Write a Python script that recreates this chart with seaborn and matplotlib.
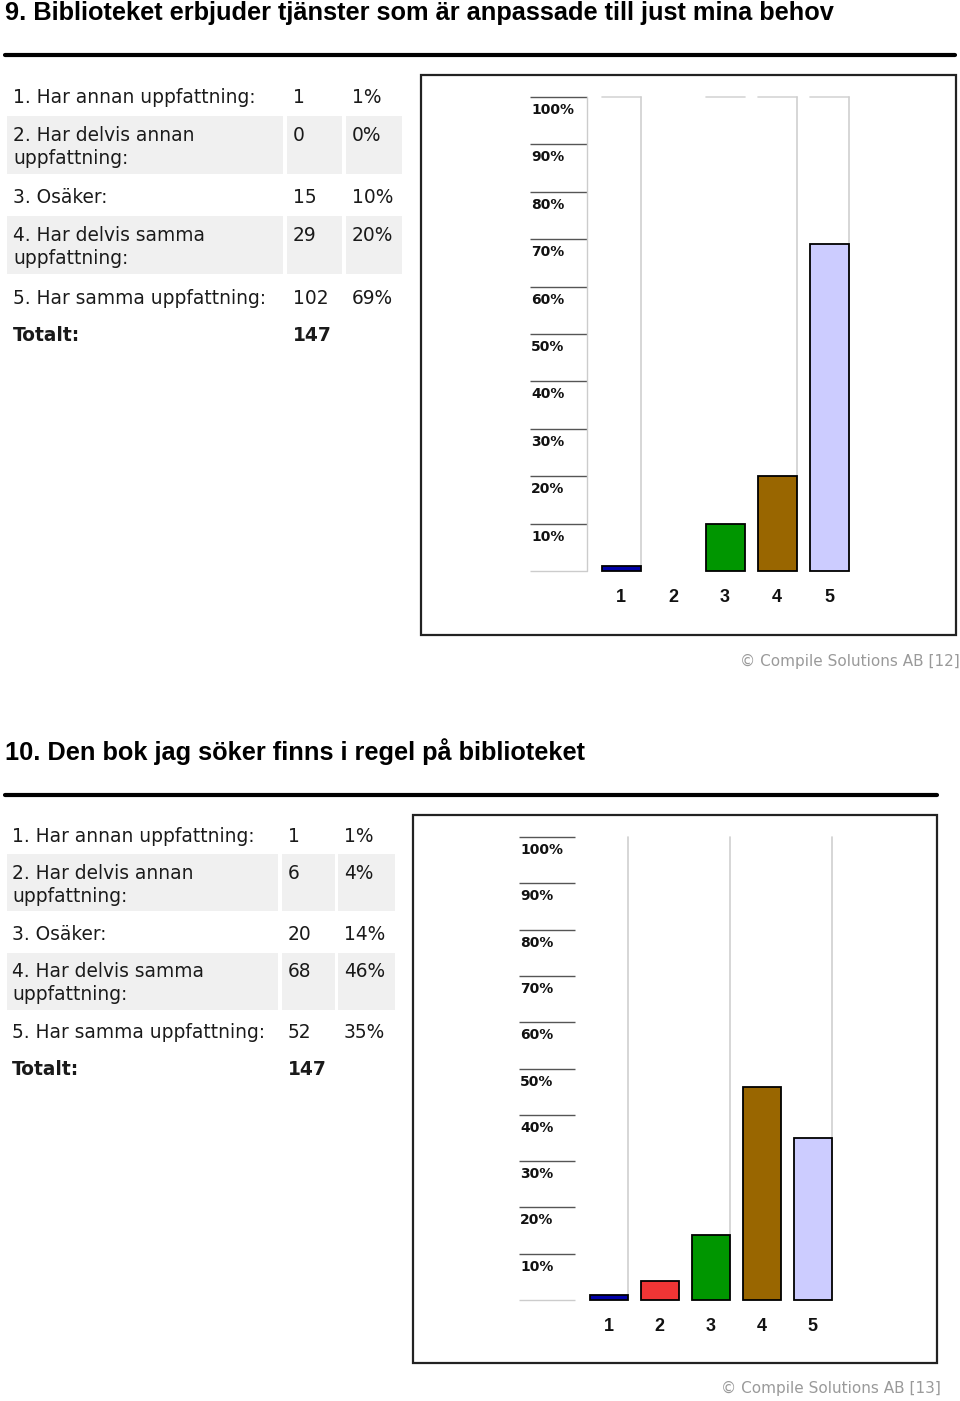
import matplotlib
matplotlib.use("Agg")
import matplotlib.pyplot as plt
import seaborn as sns
import pandas as pd
from matplotlib.patches import Rectangle
from matplotlib.lines import Line2D

# ---------------- data ----------------
q9_title = "9. Biblioteket erbjuder tjänster som är anpassade till just mina behov"
q10_title = "10. Den bok jag söker finns i regel på biblioteket"
answer_labels = [
    "1. Har annan uppfattning:",
    "2. Har delvis annan\nuppfattning:",
    "3. Osäker:",
    "4. Har delvis samma\nuppfattning:",
    "5. Har samma uppfattning:",
]
categories = ["1", "2", "3", "4", "5"]
q9_counts = [1, 0, 15, 29, 102]
q9_pcts = [1, 0, 10, 20, 69]
q9_total = 147
q10_counts = [1, 6, 20, 68, 52]
q10_pcts = [1, 4, 14, 46, 35]
q10_total = 147
total_label = "Totalt:"
y_ticks = [10, 20, 30, 40, 50, 60, 70, 80, 90, 100]
y_tick_labels = ["10%", "20%", "30%", "40%", "50%", "60%", "70%", "80%", "90%", "100%"]
bar_colors = ["#0000a8", "#f03535", "#009600", "#996600", "#ccccff"]
footer_q9 = "© Compile Solutions AB [12]"
footer_q10 = "© Compile Solutions AB [13]"

# ---------------- layout (pixels) ----------------
W, H = 960, 1401
sns.set_style("white")
plt.rcParams["font.family"] = ["DejaVu Sans"]

fig = plt.figure(figsize=(W / 100, H / 100), dpi=100)
fig.patch.set_facecolor("white")


def fx(x):
    return x / W


def fy(y):
    return 1 - y / H


P1 = dict(title_base=20, rule_y=55, rule_x1=955,
          row_base=[103, 141, 203, 241, 304], total_base=341, line_gap=23,
          col_x=(13, 293, 352), bg_cols=[(7, 283), (287, 342), (346, 402)],
          bg_rows=[(116, 174), (216, 274)], box=(421, 75, 956, 635),
          scale=(530, 587), lbl_dx=1, y0=571, y100=97, bar_c0=621, step=52, bar_w=39,
          trough_top=[True, False, True, True, True],
          trough_right=[True, False, False, True, True], scale_vline=True,
          footer=(960, 661))
P2 = dict(title_base=760, rule_y=795, rule_x1=937,
          row_base=[842, 879, 940, 977, 1038], total_base=1075, line_gap=23,
          col_x=(12, 288, 344), bg_cols=[(7, 278), (282, 335), (338, 395)],
          bg_rows=[(854, 911), (953, 1010)], box=(413, 815, 937, 1363),
          scale=(519, 575), lbl_dx=1, y0=1300, y100=837, bar_c0=608.5, step=51, bar_w=38,
          trough_top=[False] * 5,
          trough_right=[True, False, True, False, True], scale_vline=False,
          footer=(941, 1388))

TXT = "#1a1a1a"
TFS = 13.4


def draw_panel(p, title, counts, pcts, total, footer):
    # title + rule
    fig.text(fx(5), fy(p["title_base"]), title, family="Liberation Sans",
             fontweight="bold", fontsize=18.3, va="baseline", ha="left", color="black")
    fig.add_artist(Line2D([fx(5), fx(p["rule_x1"])], [fy(p["rule_y"])] * 2,
                          transform=fig.transFigure, color="black", lw=3))
    # table backgrounds
    for (y0, y1) in p["bg_rows"]:
        for (x0, x1) in p["bg_cols"]:
            fig.add_artist(Rectangle((fx(x0), fy(y1)), fx(x1) - fx(x0), fy(y0) - fy(y1),
                                     transform=fig.transFigure, facecolor="#f0f0f0",
                                     edgecolor="none", zorder=0))
    # table text
    cx = p["col_x"]
    for lab, c, pc, yb in zip(answer_labels, counts, pcts, p["row_base"]):
        for k, part in enumerate(lab.split("\n")):
            fig.text(fx(cx[0]), fy(yb + k * p["line_gap"]), part, fontsize=TFS,
                     va="baseline", ha="left", color=TXT)
        fig.text(fx(cx[1]), fy(yb), str(c), fontsize=TFS, va="baseline", color=TXT)
        fig.text(fx(cx[2]), fy(yb), f"{pc}%", fontsize=TFS, va="baseline", color=TXT)
    fig.text(fx(cx[0]), fy(p["total_base"]), total_label, fontsize=TFS,
             fontweight="bold", va="baseline", color=TXT)
    fig.text(fx(cx[1]), fy(p["total_base"]), str(total), fontsize=TFS,
             fontweight="bold", va="baseline", color=TXT)

    # chart box
    bx0, by0, bx1, by1 = p["box"]
    fig.add_artist(Rectangle((fx(bx0), fy(by1)), fx(bx1) - fx(bx0), fy(by0) - fy(by1),
                             transform=fig.transFigure, fill=False,
                             edgecolor="#222222", lw=1.6))

    # bar chart axes
    ax_left = p["scale"][0]
    ax_right = bx1 - 20
    ax = fig.add_axes([fx(ax_left), fy(p["y0"]), fx(ax_right) - fx(ax_left),
                       fy(p["y100"]) - fy(p["y0"])])
    ax.patch.set_alpha(0)
    step = p["step"]
    w = p["bar_w"] / step
    df = pd.DataFrame({"cat": categories, "pct": pcts})
    sns.barplot(data=df, x="cat", y="pct", hue="cat", palette=bar_colors,
                saturation=1, width=w, edgecolor="black", linewidth=1.3,
                legend=False, ax=ax, zorder=3)
    for patch in ax.patches:
        patch.set_clip_on(False)
        if patch.get_height() == 0:
            patch.set_visible(False)
    ax.set_ylim(0, 100)
    ax.set_xlim(-(p["bar_c0"] - ax_left) / step, (ax_right - p["bar_c0"]) / step)

    # troughs
    for i in range(len(categories)):
        xl, xr = i - w / 2, i + w / 2
        if p["trough_top"][i]:
            ax.plot([xl, xr], [100, 100], color="#d6d6d6", lw=1.2, zorder=1,
                    clip_on=False)
        if p["trough_right"][i]:
            ax.plot([xr, xr], [pcts[i], 100], color="#cfcfcf", lw=1.2, zorder=1,
                    clip_on=False)

    # scale column
    trans = ax.get_yaxis_transform()
    xmax = (p["scale"][1] - ax_left) / (ax_right - ax_left)
    ax.hlines(y_ticks, 0, xmax, transform=trans, color="#555555", lw=1.0,
              clip_on=False)
    ax.hlines([0], 0, xmax, transform=trans, color="#cccccc", lw=1.0, clip_on=False)
    if p["scale_vline"]:
        ax.plot([xmax, xmax], [0, 100], transform=trans, color="#cccccc", lw=1.0,
                clip_on=False)
    for t, lab in zip(y_ticks, y_tick_labels):
        ax.annotate(lab, xy=(0, t), xycoords=trans,
                    xytext=(p["lbl_dx"] * 0.72, -17 * 0.72), textcoords="offset points",
                    fontsize=10, fontweight="bold", va="baseline", ha="left",
                    color="#111111")

    ax.set_xticks(range(len(categories)))
    ax.set_xticklabels(categories, family="Liberation Sans", fontweight="bold",
                       fontsize=13, color="#111111")
    ax.tick_params(axis="x", length=0, pad=13)
    ax.set_yticks([])
    ax.set_xlabel("")
    ax.set_ylabel("")
    for s in ax.spines.values():
        s.set_visible(False)

    # footer
    fig.text(fx(p["footer"][0]), fy(p["footer"][1]), footer, ha="right",
             va="center", color="#9a9a9a", fontsize=11)


draw_panel(P1, q9_title, q9_counts, q9_pcts, q9_total, footer_q9)
draw_panel(P2, q10_title, q10_counts, q10_pcts, q10_total, footer_q10)

fig.savefig("out.png", dpi=100, facecolor="white")
